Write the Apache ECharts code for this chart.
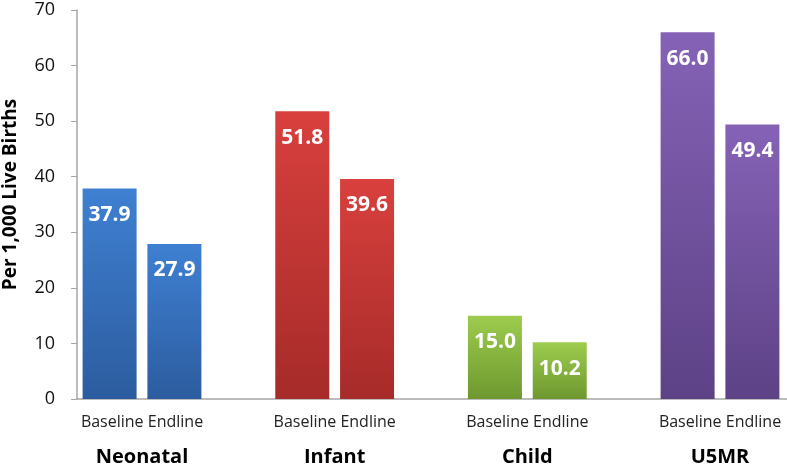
<!DOCTYPE html>
<html>
<head>
<meta charset="utf-8">
<script src="https://cdn.jsdelivr.net/npm/echarts@6/dist/echarts.min.js"></script>
<style>html,body{margin:0;padding:0;background:#fff}#c{width:787px;height:468px}</style>
</head>
<body>
<div id="c"></div>
<script>
var categories = ['Neonatal', 'Infant', 'Child', 'U5MR'];
var seriesNames = ['Baseline', 'Endline'];
var baselineValues = [37.9, 51.8, 15.0, 66.0];
var endlineValues = [27.9, 39.6, 10.2, 49.4];
var yTicks = [0, 10, 20, 30, 40, 50, 60, 70];
var yAxisTitle = 'Per 1,000 Live Births';

var palette = [
  ['#3f80d2', '#2c5c9f'],
  ['#d8403d', '#a62b29'],
  ['#9dcc4e', '#6e982f'],
  ['#8562b6', '#5d4286']
];
function grad(i) {
  return new echarts.graphic.LinearGradient(0, 0, 0, 1, [
    {offset: 0, color: palette[i][0]},
    {offset: 1, color: palette[i][1]}
  ]);
}
function mkData(vals) {
  return vals.map(function (v, i) {
    return {value: v, itemStyle: {color: grad(i)}};
  });
}
var FONT = '"Open Sans", sans-serif';
var valueLabel = {
  show: true, position: 'insideTop', distance: 16,
  color: '#fff', fontFamily: FONT, fontWeight: 'bold', fontSize: 21,
  formatter: function (p) { return p.value.toFixed(1); }
};
var chart = echarts.init(document.getElementById('c'), null, {renderer: 'canvas'});
chart.setOption({
  animation: false,
  backgroundColor: '#fff',
  grid: [
    {left: 77, right: 0, top: 10, bottom: 69, containLabel: false, outerBoundsMode: 'none'},
    {left: 142, right: 67, top: 10, bottom: 69, containLabel: false, outerBoundsMode: 'none'}
  ],
  xAxis: [
    {gridIndex: 0, type: 'category', data: categories,
     axisLine: {lineStyle: {color: '#a6a6a6', width: 1.5}},
     axisTick: {show: false}, axisLabel: {show: false}},
    {gridIndex: 1, type: 'category', data: categories, boundaryGap: false,
     axisLine: {show: false}, axisTick: {show: false},
     axisLabel: {
       margin: 8, interval: 0,
       formatter: function (v) { return '{a|' + seriesNames.join(' ') + '}\n{b|' + v + '}'; },
       rich: {
         a: {fontFamily: FONT, fontSize: 16, color: '#222', lineHeight: 30},
         b: {fontFamily: FONT, fontSize: 20, fontWeight: 'bold', color: '#000', lineHeight: 40}
       }
     }}
  ],
  yAxis: [
    {gridIndex: 0, type: 'value', min: yTicks[0], max: yTicks[yTicks.length - 1], interval: yTicks[1] - yTicks[0],
     splitLine: {show: false},
     axisLine: {show: true, lineStyle: {color: '#a6a6a6', width: 1.5}},
     axisTick: {show: true, length: 6, lineStyle: {color: '#a6a6a6'}},
     axisLabel: {margin: 22, fontFamily: FONT, fontSize: 18, color: '#111'},
     name: yAxisTitle, nameLocation: 'middle', nameGap: 57, nameRotate: 90,
     nameTextStyle: {fontFamily: FONT, fontSize: 19, fontWeight: 'bold', color: '#000', padding: [0, 0, 0, 20]}},
    {gridIndex: 1, type: 'value', min: yTicks[0], max: yTicks[yTicks.length - 1], show: false, splitLine: {show: false}}
  ],
  series: [
    {type: 'bar', name: seriesNames[0], xAxisIndex: 1, yAxisIndex: 1, barWidth: 54, barGap: '20%', clip: false,
     data: mkData(baselineValues), label: valueLabel},
    {type: 'bar', name: seriesNames[1], xAxisIndex: 1, yAxisIndex: 1, barWidth: 54, barGap: '20%', clip: false,
     data: mkData(endlineValues), label: valueLabel}
  ]
});
</script>
</body>
</html>
